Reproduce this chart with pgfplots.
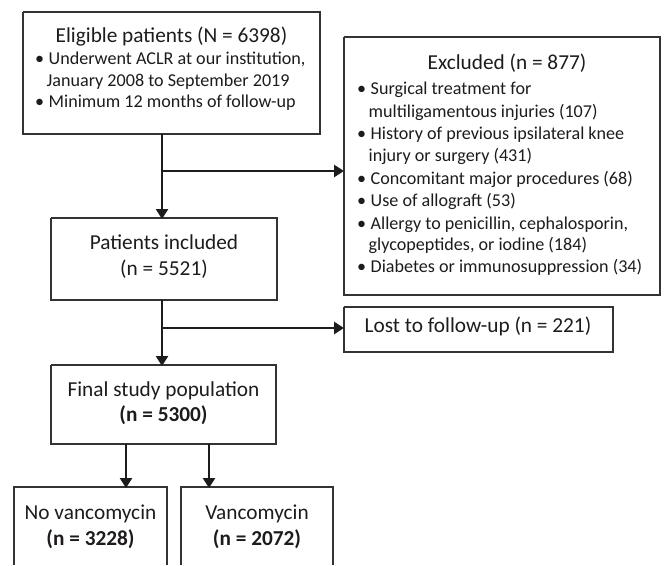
\documentclass[border=0pt]{standalone}
\usepackage{pgfplots}
\pgfplotsset{compat=1.18}
\usetikzlibrary{arrows.meta}
\usepackage{fontspec}
\setmainfont{Carlito}
\definecolor{ink}{HTML}{1E1B1C}
\definecolor{boxc}{HTML}{333333}
\begin{document}
\begin{tikzpicture}[
  T/.style={font=\fontsize{21.3}{25}\selectfont, text=ink, inner sep=0pt, anchor=mid},
  TB/.style={font=\fontsize{21.3}{25}\selectfont\bfseries, text=ink, inner sep=0pt, anchor=mid},
  B/.style={font=\fontsize{18.1}{21}\selectfont, text=ink, inner sep=0pt, anchor=mid west},
]
\begin{axis}[width=666pt,height=565pt,scale only axis,
  xmin=0,xmax=666,ymin=0,ymax=565,y dir=reverse,hide axis,clip=false]
% bounding corners
\addplot[draw=none] coordinates {(0,0) (666,565)};
% boxes
\addplot[boxc, line width=1.5pt] coordinates {(23,12) (320,12) (320,134) (23,134) (23,12)};
\addplot[boxc, line width=1.5pt] coordinates {(344,37) (660,37) (660,295) (344,295) (344,37)};
\addplot[boxc, line width=1.5pt] coordinates {(51,218) (277,218) (277,300) (51,300) (51,218)};
\addplot[boxc, line width=1.5pt] coordinates {(344,307) (613,307) (613,352) (344,352) (344,307)};
\addplot[boxc, line width=1.5pt] coordinates {(51,365) (276,365) (276,444) (51,444) (51,365)};
\addplot[boxc, line width=1.5pt] coordinates {(14,565) (14,487) (167,487) (167,565)};
\addplot[boxc, line width=1.5pt] coordinates {(181,565) (181,487) (333,487) (333,565)};
% arrows
\tikzset{arr/.style={ink, line width=2.6pt, -{Triangle[length=10pt,width=12pt]}}}
\addplot[arr] coordinates {(162,134) (162,219)};
\addplot[arr] coordinates {(162,171) (344,171)};
\addplot[arr] coordinates {(162,300) (162,366)};
\addplot[arr] coordinates {(162,328) (344,328)};
\addplot[arr] coordinates {(126,444) (126,488)};
\addplot[arr] coordinates {(209,444) (209,488)};
% texts box 1
\node[T] at (axis cs:171.5,40) {Eligible patients (N = 6398)};
\node[B] at (axis cs:35,62) {•\hspace{4.5pt}Underwent ACLR at our institution,};
\node[B] at (axis cs:46.5,84) {January 2008 to September 2019};
\node[B] at (axis cs:35,105) {•\hspace{4.5pt}Minimum 12 months of follow-up};
% excluded
\node[T] at (axis cs:507,67) {Excluded (n = 877)};
\node[B] at (axis cs:357,91.7) {•\hspace{4.5pt}Surgical treatment for};
\node[B] at (axis cs:368.5,115) {multiligamentous injuries (107)};
\node[B] at (axis cs:357,136.7) {•\hspace{4.5pt}History of previous ipsilateral knee};
\node[B] at (axis cs:368.5,159.3) {injury or surgery (431)};
\node[B] at (axis cs:357,181.7) {•\hspace{4.5pt}Concomitant major procedures (68)};
\node[B] at (axis cs:357,204) {•\hspace{4.5pt}Use of allograft (53)};
\node[B] at (axis cs:357,226.7) {•\hspace{4.5pt}Allergy to penicillin, cephalosporin,};
\node[B] at (axis cs:368.5,248.3) {glycopeptides, or iodine (184)};
\node[B] at (axis cs:357,270) {•\hspace{4.5pt}Diabetes or immunosuppression (34)};
% patients included
\node[T] at (axis cs:164,247) {Patients included};
\node[T] at (axis cs:164,273) {(n = 5521)};
% lost
\node[T] at (axis cs:478,330) {Lost to follow-up (n = 221)};
% final
\node[T] at (axis cs:163.5,394) {Final study population};
\node[TB] at (axis cs:163.5,419) {(n = 5300)};
% groups
\node[T] at (axis cs:90.5,517) {No vancomycin};
\node[TB] at (axis cs:90.5,543) {(n = 3228)};
\node[T] at (axis cs:257,517) {Vancomycin};
\node[TB] at (axis cs:257,543) {(n = 2072)};
\end{axis}
\end{tikzpicture}
\end{document}
